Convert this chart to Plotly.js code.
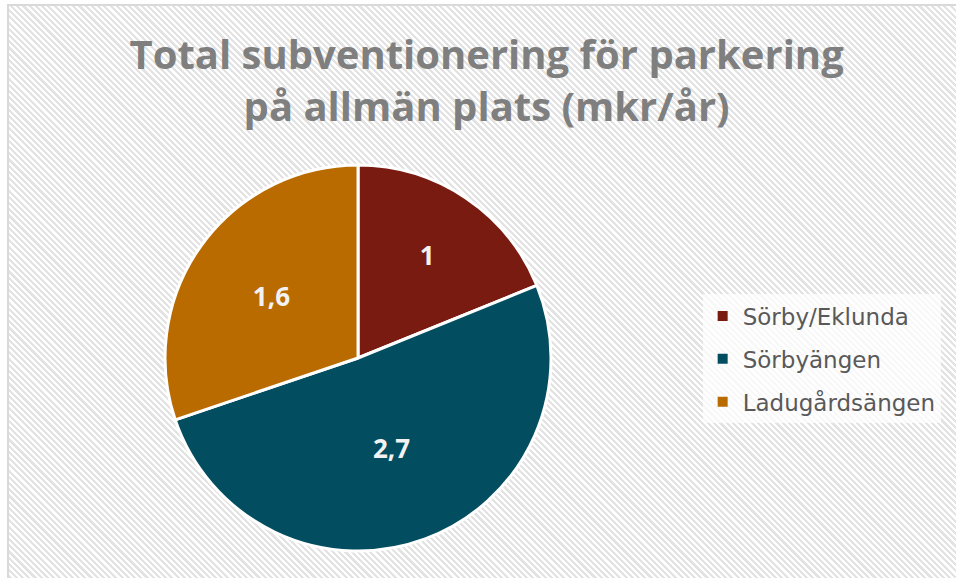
<!DOCTYPE html>
<html>
<head>
<meta charset="utf-8">
<script src="https://cdn.plot.ly/plotly-3.0.1.min.js"></script>
<style>
  html, body { margin:0; padding:0; width:956px; height:578px; overflow:hidden; background:#ffffff; }
  #bg { position:absolute; left:7px; top:4px; width:970px; height:600px;
        border-left:2px solid #d9d9d9; border-top:2px solid #d9d9d9;
        background: repeating-linear-gradient(45deg, #ffffff 0px, #ffffff 2.2px, #e3e3e3 2.2px, #e3e3e3 4.4px); }
  #chart { position:absolute; left:0; top:0; width:956px; height:578px; }
</style>
</head>
<body>
<div id="bg"></div>
<div id="chart"></div>
<script>
const categories = ["Sörby/Eklunda", "Sörbyängen", "Ladugårdsängen"];
const values = [1, 2.7, 1.6];
const valueLabels = ["1", "2,7", "1,6"];
const colors = ["#7a1b11", "#024e60", "#b96b00"];

const pie = {
  type: "pie",
  labels: categories,
  values: values,
  text: valueLabels,
  textinfo: "text",
  textposition: "inside",
  insidetextorientation: "horizontal",
  hoverinfo: "label+text",
  sort: false,
  direction: "clockwise",
  rotation: 0,
  showlegend: false,
  marker: { colors: colors, line: { color: "#ffffff", width: 3 } },
  textfont: { family: "Open Sans, DejaVu Sans, sans-serif", size: 26, color: "#f2f2f2", weight: "bold" },
  domain: { x: [0.1726, 0.5764], y: [0.0467, 0.7145] }
};

const legendTraces = categories.map((c, i) => ({
  type: "scatter",
  mode: "markers",
  x: [null], y: [null],
  name: c,
  legendgroup: "g" + i,
  marker: { symbol: "square", size: 10, color: colors[i] },
  hoverinfo: "skip"
}));

const layout = {
  width: 956, height: 578,
  margin: { l: 0, r: 0, t: 0, b: 0 },
  paper_bgcolor: "rgba(0,0,0,0)",
  plot_bgcolor: "rgba(0,0,0,0)",
  xaxis: { visible: false, domain: [0.99, 1] },
  yaxis: { visible: false, domain: [0.99, 1] },
  title: {
    text: "Total subventionering för parkering<br>på allmän plats (mkr/år)",
    x: 0.509, xanchor: "center",
    y: 0.881, yanchor: "top",
    font: { family: "Open Sans, DejaVu Sans, sans-serif", size: 40, color: "#7f7f7f", weight: "bold" }
  },
  legend: {
    x: 0.735, xanchor: "left",
    y: 0.379, yanchor: "middle",
    bgcolor: "rgba(255,255,255,0.75)",
    font: { family: "DejaVu Sans, sans-serif", size: 23, color: "#595959" },
    tracegroupgap: 10,
    itemwidth: 30
  },
  showlegend: true
};

Plotly.newPlot("chart", [pie].concat(legendTraces), layout, { displayModeBar: false, staticPlot: true });
</script>
</body>
</html>
